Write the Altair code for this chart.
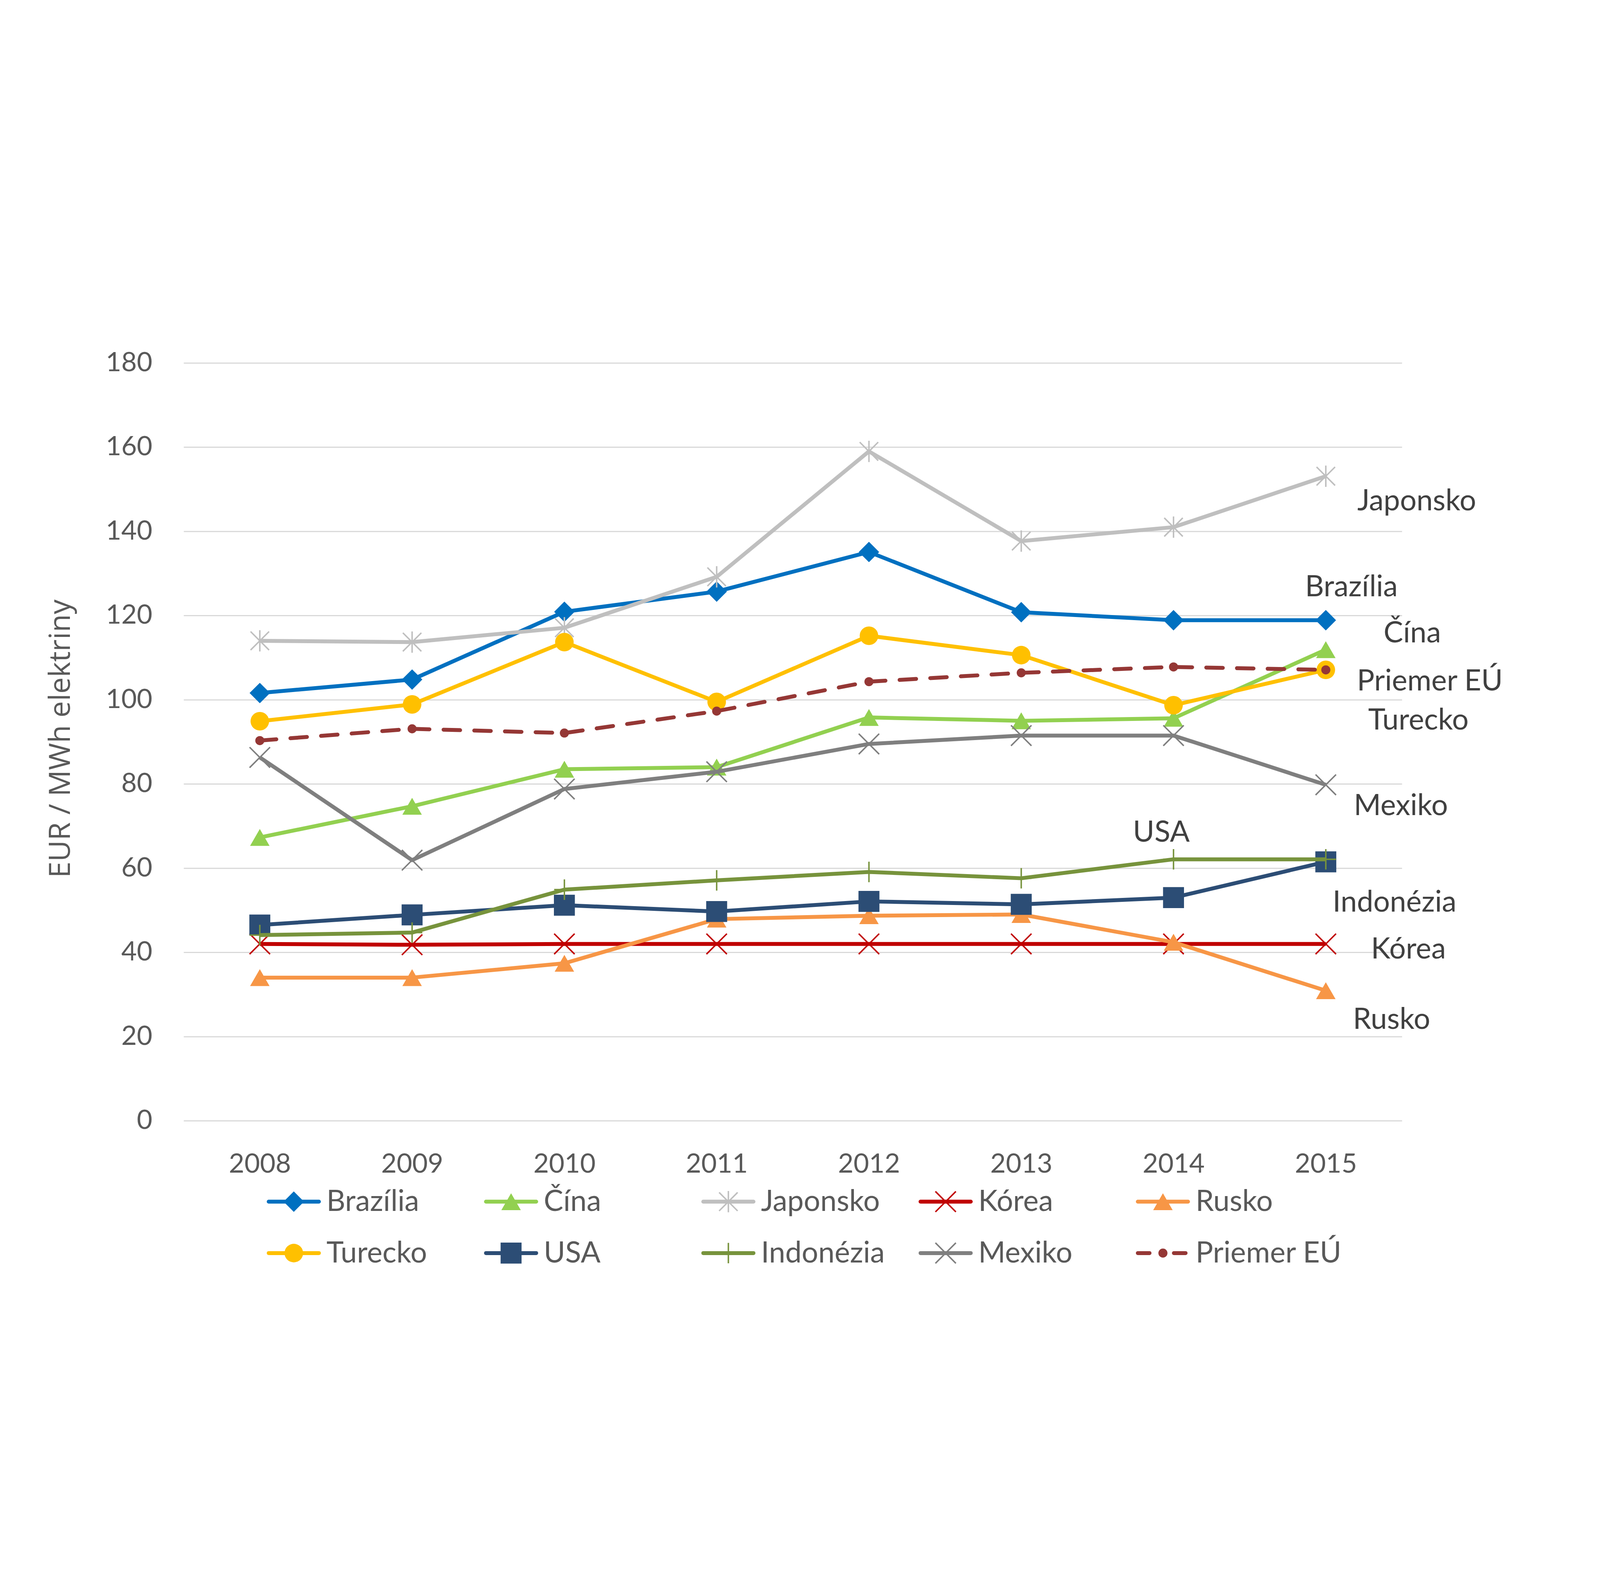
import altair as alt
import pandas as pd

years = [2008, 2009, 2010, 2011, 2012, 2013, 2014, 2015]
series_names = ["Brazília", "Čína", "Japonsko", "Kórea", "Rusko",
                "Turecko", "USA", "Indonézia", "Mexiko", "Priemer EÚ"]

brazilia = [101.6, 104.8, 120.9, 125.7, 135.1, 120.8, 118.9, 118.9]
cina = [67.3, 74.7, 83.5, 84.0, 95.8, 95.0, 95.6, 111.9]
japonsko = [114.0, 113.7, 117.1, 129.2, 159.0, 137.7, 141.0, 153.1]
korea = [42.0, 41.8, 42.0, 42.0, 42.0, 42.0, 42.0, 42.0]
rusko = [34.0, 34.0, 37.4, 47.9, 48.7, 49.0, 42.4, 30.9]
turecko = [94.9, 98.9, 113.7, 99.5, 115.2, 110.6, 98.7, 107.1]
usa = [46.5, 48.9, 51.2, 49.7, 52.1, 51.4, 53.0, 61.5]
indonezia = [44.1, 44.7, 54.9, 57.1, 59.1, 57.6, 62.1, 62.1]
mexiko = [86.3, 61.9, 78.8, 82.9, 89.5, 91.5, 91.5, 79.8]
priemer_eu = [90.3, 93.1, 92.1, 97.3, 104.3, 106.4, 107.8, 107.1]

values = [brazilia, cina, japonsko, korea, rusko,
          turecko, usa, indonezia, mexiko, priemer_eu]

colors = ["#0070C0", "#92D050", "#BFBFBF", "#C00000", "#F79646",
          "#FFC000", "#2C4D75", "#77933C", "#7F7F7F", "#953735"]

y_ticks = [0, 20, 40, 60, 80, 100, 120, 140, 160, 180]

rows = []
for name, vals in zip(series_names, values):
    for yr, v in zip(years, vals):
        rows.append({"series": name, "year": yr, "value": v})
df = pd.DataFrame(rows)

leg_df = pd.DataFrame({
    "series": series_names,
    "col": [i % 5 for i in range(len(series_names))],
    "row": [i // 5 for i in range(len(series_names))],
})

SHAPE_X = "M-1,-1L1,1M-1,1L1,-1"
SHAPE_AST = "M-1,-1L1,1M-1,1L1,-1M0,-1.15L0,1.15"
SHAPE_PLUS = "M-1,0L1,0M0,-1L0,1"

# marker styles: (shape, filled, size)
marker = {
    "Brazília": ("diamond", True, 7056),
    "Čína": ("triangle-up", True, 6400),
    "Japonsko": (SHAPE_AST, False, 5776),
    "Kórea": (SHAPE_X, False, 7056),
    "Rusko": ("triangle-up", True, 6400),
    "Turecko": ("circle", True, 5809),
    "USA": ("square", True, 7396),
    "Indonézia": (SHAPE_PLUS, False, 7056),
    "Mexiko": (SHAPE_X, False, 7056),
    "Priemer EÚ": ("circle", True, 1385),
}

# right-hand labels: (dx, dy) offsets from the series' 2015 point
labels = {
    "Japonsko": (373, 140),
    "Brazília": (105, -98),
    "Čína": (355, -30),
    "Priemer EÚ": (427, 85),
    "Turecko": (380, 245),
    "Mexiko": (308, 125),
    "USA": (-675, -82),
    "Indonézia": (282, 214),
    "Kórea": (339, 60),
    "Rusko": (270, 156),
}

TICK_COLOR = "#595959"
LABEL_COLOR = "#404040"
FONT = "Lato"

x_enc = alt.X("year:O", scale=alt.Scale(type="point", padding=0.5),
              axis=alt.Axis(title=None, labelAngle=0, grid=False, domain=False,
                            ticks=False, tickSize=0, labelPadding=126,
                            labelLimit=2000,
                            labelFont=FONT, labelFontSize=110,
                            labelColor=TICK_COLOR))
y_enc = alt.Y("value:Q", scale=alt.Scale(domain=[0, 180], nice=False),
              axis=alt.Axis(title="EUR / MWh elektriny", values=y_ticks,
                            domain=False, ticks=False, tickSize=0,
                            grid=True, gridColor="#D9D9D9", gridWidth=5,
                            labelPadding=129, labelLimit=2000, labelFont=FONT,
                            labelFontSize=110, labelColor=TICK_COLOR,
                            titleFont="Open Sans", titleFontSize=120,
                            titleFontWeight="normal", titleColor=TICK_COLOR,
                            titleLimit=4000, titleAngle=270,
                            titleBaseline="bottom", titleAlign="center",
                            titleX=-443, titleY=1541))
color_enc = alt.Color("series:N",
                      scale=alt.Scale(domain=series_names, range=colors),
                      legend=None)

base = alt.Chart(df)
main_layers = []
for name in series_names:
    shp, filled, size = marker[name]
    sub = base.transform_filter(alt.datum.series == name)
    line_kw = dict(strokeWidth=16, strokeJoin="round")
    if name == "Priemer EÚ":
        line_kw.update(strokeDash=[68, 58], strokeCap="round")
    main_layers.append(sub.mark_line(**line_kw).encode(x=x_enc, y=y_enc, color=color_enc))
    if filled:
        pt = sub.mark_point(shape=shp, filled=True, size=size, opacity=1)
    else:
        pt = sub.mark_point(shape=shp, filled=False, size=size, opacity=1,
                            strokeWidth=6)
    main_layers.append(pt.encode(x=x_enc, y=y_enc, color=color_enc))

for name, (dx, dy) in labels.items():
    lab = base.transform_filter(
        (alt.datum.series == name) & (alt.datum.year == years[-1])
    ).mark_text(align="center", baseline="alphabetic", dx=dx, dy=dy,
                font=FONT, fontSize=120, color=LABEL_COLOR).encode(
        x=x_enc, y=y_enc, text="series:N")
    main_layers.append(lab)

main = alt.layer(*main_layers)

# legend built from the series list
lx = alt.X("col:Q", scale=alt.Scale(domain=[0, 4], range=[452, 4019]), axis=None)
ly = alt.Y("row:Q", scale=alt.Scale(domain=[0, 1], range=[3441, 3652]), axis=None)
lbase = alt.Chart(leg_df)
legend_layers = []
for name in series_names:
    shp, filled, size = marker[name]
    sub = lbase.transform_filter(alt.datum.series == name)
    rule_kw = dict(strokeWidth=16, strokeCap="round", xOffset=-103, x2Offset=103)
    if name == "Priemer EÚ":
        rule_kw.update(strokeDash=[48, 100])
    legend_layers.append(sub.mark_rule(**rule_kw).encode(
        x=lx, x2="col:Q", y=ly, color=color_enc))
    if filled:
        pt = sub.mark_point(shape=shp, filled=True, size=size, opacity=1)
    else:
        pt = sub.mark_point(shape=shp, filled=False, size=size, opacity=1,
                            strokeWidth=6)
    legend_layers.append(pt.encode(x=lx, y=ly, color=color_enc))
legend_layers.append(lbase.mark_text(align="left", baseline="alphabetic",
                                     dx=134, dy=38, font=FONT, fontSize=120,
                                     color=TICK_COLOR).encode(
    x=lx, y=ly, text="series:N"))
legend = alt.layer(*legend_layers)

chart = alt.layer(main, legend).resolve_scale(x="independent", y="independent").properties(
    width=5000, height=3109,
    padding={"left": 741, "top": 261, "right": 800, "bottom": 660},
    autosize=alt.AutoSizeParams(type="none"),
    background="white",
).configure_view(stroke=None)

chart.save("out.html", embed_options={"renderer": "svg", "actions": False})
